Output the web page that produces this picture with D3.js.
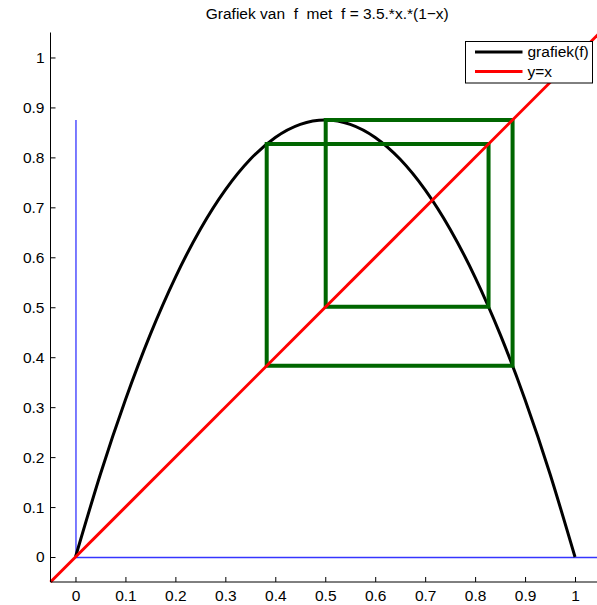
<!DOCTYPE html>
<html>
<head>
<meta charset="utf-8">
<script src="https://cdn.jsdelivr.net/npm/d3@7"></script>
<style>
  body { margin: 0; background: #fff; }
  text { font-family: "Liberation Sans", Arial, sans-serif; fill: #000; }
</style>
</head>
<body>
<div id="chart"></div>
<script>
const W = 597, H = 605;
const margin = { top: 32.5, right: -3, bottom: 23, left: 50.5 };

// curve f = 3.5x(1-x), sampled every 0.05
const curveX = [0, 0.05, 0.1, 0.15, 0.2, 0.25, 0.3, 0.35, 0.4, 0.45, 0.5,
  0.55, 0.6, 0.65, 0.7, 0.75, 0.8, 0.85, 0.9, 0.95, 1];
const curveY = [0, 0.16625, 0.315, 0.44625, 0.56, 0.65625, 0.735, 0.79625, 0.84, 0.86625, 0.875,
  0.86625, 0.84, 0.79625, 0.735, 0.65625, 0.56, 0.44625, 0.315, 0.16625, 0];
// diagonal y = x
const diagX = [-0.05, 1.05];
// blue reference lines
const vBlue = [[0, 0], [0, 0.875]];
const hBlue = [[0, 0], [1.05, 0]];
// 4-cycle of the cobweb
const cycle = [0.3828, 0.8269, 0.5009, 0.8750];
const ticks = [0, 0.1, 0.2, 0.3, 0.4, 0.5, 0.6, 0.7, 0.8, 0.9, 1];

const width = W - margin.left - margin.right;
const height = H - margin.top - margin.bottom;

const x = d3.scaleLinear().domain([-0.05, 1.05]).range([0, width]);
const y = d3.scaleLinear().domain([-0.05, 1.05]).range([height, 0]);

const svg = d3.select('#chart').append('svg')
    .attr('width', W).attr('height', H);

svg.append('text')
    .attr('x', margin.left + width / 2 + 2)
    .attr('y', 19)
    .attr('text-anchor', 'middle')
    .style('font-size', '15.5px')
    .style('white-space', 'pre')
    .text('Grafiek van  f  met  f = 3.5.*x.*(1\u2212x)');

const g = svg.append('g')
    .attr('transform', `translate(${margin.left},${margin.top})`);

const line = d3.line().x(d => x(d[0])).y(d => y(d[1]));

// blue lines
g.append('path').attr('d', line(vBlue)).attr('transform', 'translate(0.5,0)')
    .attr('stroke', '#3535ff').attr('stroke-width', 1.3).attr('fill', 'none');
g.append('path').attr('d', line(hBlue)).attr('transform', 'translate(0,0.5)')
    .attr('stroke', '#3535ff').attr('stroke-width', 1.3).attr('fill', 'none');

// function curve
g.append('path')
    .attr('d', d3.line().x(d => x(d[0])).y(d => y(d[1])).curve(d3.curveNatural)(curveX.map((v, i) => [v, curveY[i]])))
    .attr('stroke', '#000').attr('stroke-width', 3).attr('fill', 'none');

// cobweb
const web = [];
cycle.forEach((v, i) => {
    const next = cycle[(i + 1) % cycle.length];
    web.push([v, v], [v, next]);
});
web.push([cycle[0], cycle[0]]);
g.append('path')
    .attr('d', line(web))
    .attr('stroke', '#006600').attr('stroke-width', 4).attr('fill', 'none')
    .attr('stroke-linejoin', 'miter').attr('stroke-linecap', 'square');

// y = x
g.append('path')
    .attr('d', line(diagX.map(v => [v, v])))
    .attr('stroke', '#ff0000').attr('stroke-width', 3).attr('fill', 'none');

// axes
const xAxis = g.append('g').attr('transform', `translate(0,${height})`)
    .call(d3.axisBottom(x).tickValues(ticks).tickSize(-5).tickFormat(d3.format('')));
xAxis.select('.domain').attr('d', `M0,0H${width}`);
xAxis.selectAll('text').style('font-size', '15.5px').attr('dy', null).attr('y', 19);

const yAxis = g.append('g')
    .call(d3.axisLeft(y).tickValues(ticks).tickSize(-5).tickFormat(d3.format('')));
yAxis.select('.domain').attr('d', `M0,0V${height}`);
yAxis.selectAll('text').style('font-size', '15.5px').attr('x', -6);
g.selectAll('.domain').attr('stroke', '#000');

// legend
const leg = svg.append('g').attr('transform', 'translate(465.5,41.5)');
leg.append('rect').attr('width', 127).attr('height', 41.5)
    .attr('fill', '#fff').attr('stroke', '#000').attr('stroke-width', 1);
const entries = [['grafiek(f)', '#000'], ['y=x', '#ff0000']];
entries.forEach((e, i) => {
    const yy = 10.5 + i * 19.5;
    leg.append('line').attr('x1', 9.5).attr('x2', 57).attr('y1', yy).attr('y2', yy)
        .attr('stroke', e[1]).attr('stroke-width', 3);
    leg.append('text').attr('x', 62).attr('y', yy).attr('dy', '0.35em')
        .style('font-size', '15.5px').text(e[0]);
});
</script>
</body>
</html>
